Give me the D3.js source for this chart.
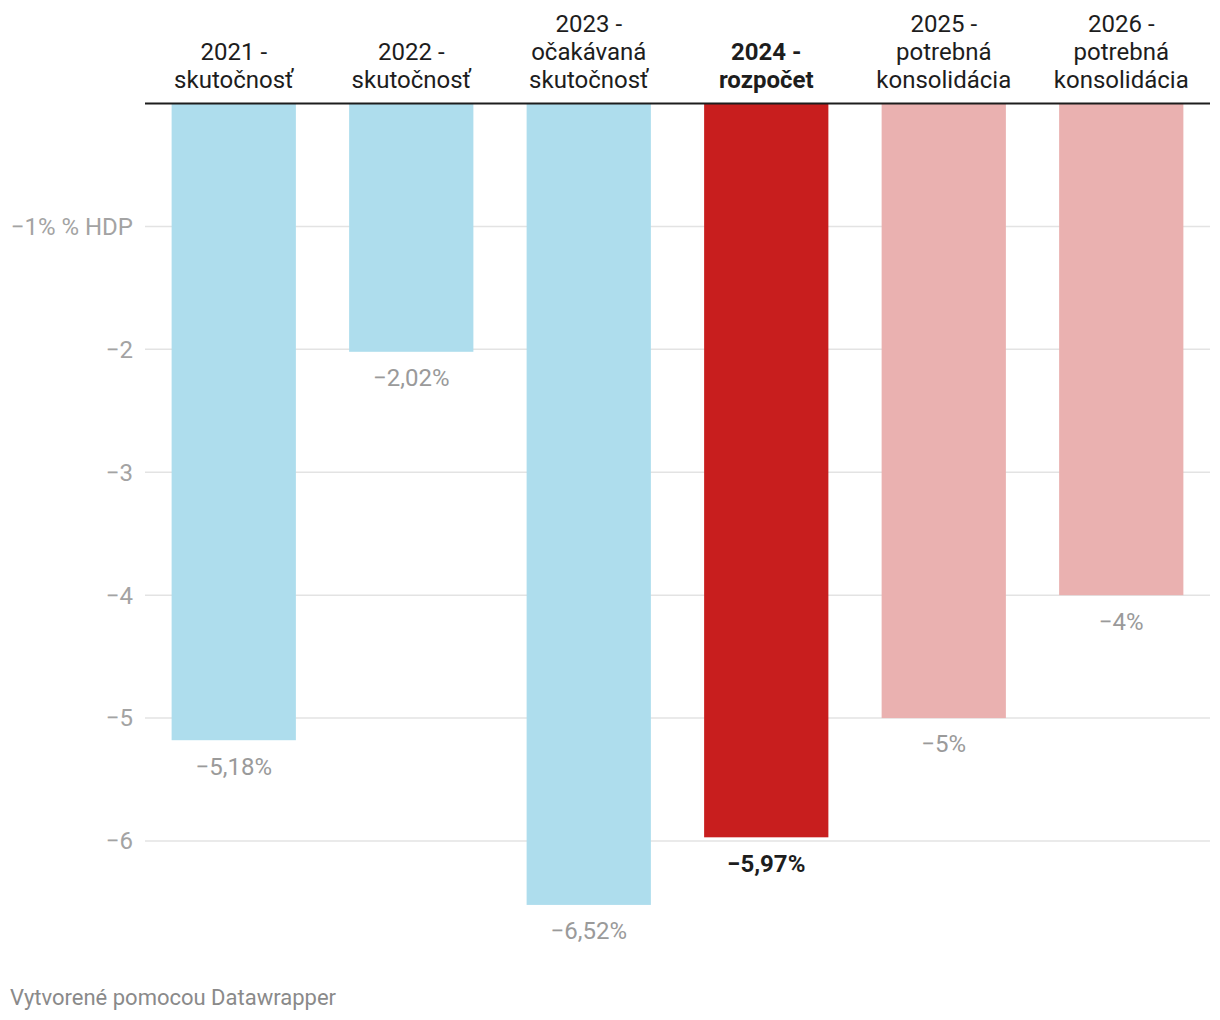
<!DOCTYPE html>
<html><head><meta charset="utf-8">
<script src="https://cdn.jsdelivr.net/npm/d3@7"></script>
<style>body{margin:0;background:#fff;font-family:Roboto,sans-serif}</style>
</head><body><svg id="c" width="1220" height="1020"></svg>
<script>
const categories = [["2021 -","skutočnosť"],["2022 -","skutočnosť"],["2023 -","očakávaná","skutočnosť"],["2024 -","rozpočet"],["2025 -","potrebná","konsolidácia"],["2026 -","potrebná","konsolidácia"]];
const values = [-5.18,-2.02,-6.52,-5.97,-5,-4];
const valueLabels = ["−5,18%","−2,02%","−6,52%","−5,97%","−5%","−4%"];
const barColors = ["#aedded","#aedded","#aedded","#c81e1e","#eab1b0","#eab1b0"];
const highlight = [false,false,false,true,false,false];
const ticks = [-1,-2,-3,-4,-5,-6];
const tickLabels = ["−1% % HDP","−2","−3","−4","−5","−6"];

const svg = d3.select("#c");
const x = d3.scaleBand().domain(d3.range(categories.length)).range([145,1210]).paddingInner(0.3).paddingOuter(0.15);
const y = d3.scaleLinear().domain([0,-6]).range([103.5,841]);

// gridlines
svg.append("g").selectAll("line").data(ticks).join("line")
  .attr("x1",145).attr("x2",1210).attr("y1",d=>y(d)).attr("y2",d=>y(d))
  .attr("stroke","#e3e3e3").attr("stroke-width",1.5);
svg.append("g").selectAll("text").data(ticks).join("text")
  .attr("x",133).attr("y",d=>y(d)).attr("dy","0.35em").attr("text-anchor","end")
  .attr("fill","#a3a3a3").attr("font-size",24).text((d,i)=>tickLabels[i]);

// bars
svg.append("g").selectAll("rect").data(values).join("rect")
  .attr("x",(d,i)=>x(i)).attr("width",x.bandwidth())
  .attr("y",y(0)).attr("height",d=>y(d)-y(0)).attr("fill",(d,i)=>barColors[i]);

// value labels
svg.append("g").selectAll("text").data(values).join("text")
  .attr("x",(d,i)=>x(i)+x.bandwidth()/2).attr("y",d=>y(d)+26).attr("dy","0.35em")
  .attr("text-anchor","middle").attr("font-size",24)
  .attr("font-weight",(d,i)=>highlight[i]?700:400)
  .attr("fill",(d,i)=>highlight[i]?"#1d1d1d":"#9a9a9a")
  .text((d,i)=>valueLabels[i]);

// zero line
svg.append("line").attr("x1",145).attr("x2",1210).attr("y1",y(0)).attr("y2",y(0))
  .attr("stroke","#1d1d1d").attr("stroke-width",2);

// category labels
const cg = svg.append("g").selectAll("text").data(categories).join("text")
  .attr("text-anchor","middle").attr("font-size",24).attr("fill","#1d1d1d")
  .attr("font-weight",(d,i)=>highlight[i]?700:400);
cg.each(function(d,i){
  const t = d3.select(this);
  const n = d.length;
  d.forEach((line,j)=>{
    t.append("tspan").attr("x",x(i)+x.bandwidth()/2).attr("y",80-(n-1-j)*28).attr("dy","0.35em").text(line);
  });
});

svg.append("text").attr("x",10).attr("y",997).attr("dy","0.35em").attr("font-size",22)
  .attr("fill","#8a8a8a").text("Vytvorené pomocou Datawrapper");
</script></body></html>
